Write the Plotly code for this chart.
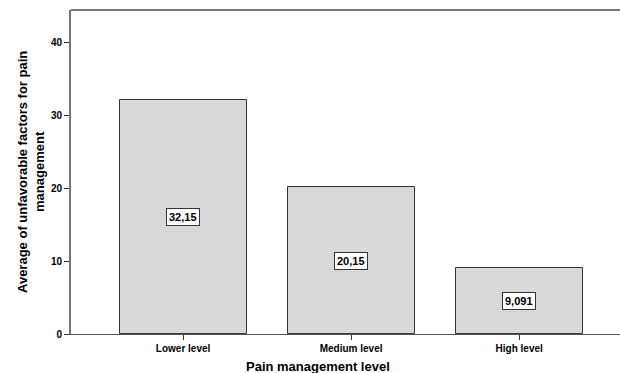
import plotly.graph_objects as go

categories = ["Lower level", "Medium level", "High level"]
values = [32.15, 20.15, 9.091]
value_labels = ["32,15", "20,15", "9,091"]
y_ticks = [0, 10, 20, 30, 40]

FONT = "Arial, Liberation Sans"

fig = go.Figure()
fig.add_trace(go.Bar(
    x=categories, y=values, width=0.756,
    marker=dict(
        color="white",
        line=dict(color="#333333", width=1),
        pattern=dict(shape=".", fgcolor="#666666", bgcolor="white", size=2, solidity=0.6),
    ),
    hoverinfo="skip",
))

for c, v, t in zip(categories, values, value_labels):
    fig.add_annotation(x=c, y=v / 2, text="<b>" + t + "</b>", showarrow=False,
                       font=dict(family=FONT, size=11, color="black"),
                       bgcolor="white", bordercolor="#333333", borderwidth=1, borderpad=2)

fig.add_shape(type="line", xref="paper", yref="paper", x0=0, x1=1, y0=1, y1=1,
              line=dict(color="#777777", width=2))

fig.add_annotation(xref="paper", yref="paper", x=(31 - 71) / 549, y=0.5, xanchor="center", yanchor="middle",
                   text="<b>Average of unfavorable factors for pain<br>management</b>", textangle=-90,
                   showarrow=False, font=dict(family=FONT, size=13, color="black"))
fig.add_annotation(xref="paper", yref="paper", x=(318 - 71) / 549, y=-(366 - 334) / 324, xanchor="center", yanchor="middle",
                   text="<b>Pain management level</b>",
                   showarrow=False, font=dict(family=FONT, size=13, color="black"))

fig.update_layout(
    width=620, height=373,
    margin=dict(l=71, r=0, t=10, b=39, autoexpand=False),
    plot_bgcolor="white", paper_bgcolor="white",
    showlegend=False,
    bargap=0,
    xaxis=dict(
        range=[-0.667, 2.6], showgrid=False, zeroline=False, automargin=False,
        showline=True, linecolor="#555555", linewidth=1,
        ticks="outside", ticklen=5, tickcolor="#333333",
        tickfont=dict(family=FONT, size=10, color="black", weight="bold"),
    ),
    yaxis=dict(
        range=[0, 44.5], tickvals=y_ticks, showgrid=False, zeroline=False, automargin=False,
        showline=True, linecolor="#777777", linewidth=2,
        ticks="outside", ticklen=5, tickcolor="#333333",
        tickfont=dict(family=FONT, size=10, color="black", weight="bold"),
    ),
)

fig.write_html("out.html", config={"displayModeBar": False},
               post_script="document.body.style.margin='0';document.body.style.padding='0';")
